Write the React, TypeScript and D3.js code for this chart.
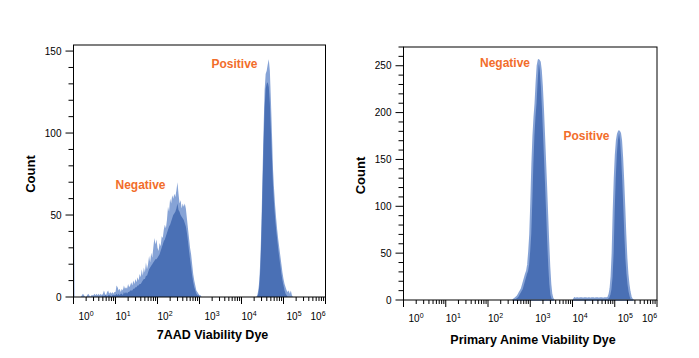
import React from "react";
import * as d3 from "d3";

// ---------- data ----------
const DECADES = [0, 1, 2, 3, 4, 5, 6];
const BIN_STEP = 0.025; // log10 width of one histogram bin

const LEFT_Y_TICKS = [0, 50, 100, 150];
const RIGHT_Y_TICKS = [0, 50, 100, 150, 200, 250];

// 7AAD panel, negative population (log10 start 0)
const LEFT_NEG_START = 0;
const LEFT_NEG_LIGHT = [
  84, 0, 0, 0, 0, 0, 0, 0,
  1, 2, 1, 0, 0, 1, 2, 1,
  0, 1, 1, 1, 2, 1, 2, 1,
  2, 1, 2, 1, 2, 4, 2, 1,
  3, 4, 2, 3, 2, 3, 2, 3,
  3, 7, 6, 4, 5, 3, 5, 4,
  7, 5, 6, 5, 8, 6, 7, 9,
  7, 10, 8, 11, 9, 12, 10, 14,
  12, 17, 13, 18, 15, 21, 17, 20,
  25, 21, 27, 24, 30, 36, 32, 35,
  30, 28, 33, 31, 37, 36, 41, 44,
  42, 47, 55, 52, 60, 57, 62, 60,
  63, 61, 65, 70, 63, 57, 59, 54,
  57, 55, 57, 54, 48, 42, 36, 30,
  26, 20, 14, 10, 7, 4, 3, 2,
  1, 1, 0,
];
const LEFT_NEG_DARK = [
  0, 0, 0, 0, 0, 0, 0, 0,
  0, 0, 0, 0, 0, 0, 0, 0,
  0, 0, 0, 0, 0, 0, 0, 0,
  0, 0, 0, 0, 1, 0, 1, 1,
  0, 1, 1, 1, 0, 1, 1, 1,
  1, 2, 1, 2, 1, 2, 2, 1,
  3, 2, 3, 2, 3, 3, 4, 4,
  4, 5, 5, 6, 6, 7, 7, 8,
  8, 9, 10, 11, 11, 13, 13, 15,
  17, 18, 19, 20, 21, 22, 23, 23,
  24, 25, 26, 28, 30, 32, 34, 35,
  37, 39, 41, 43, 44, 46, 48, 50,
  51, 52, 54, 57, 53, 52, 50, 49,
  48, 47, 45, 43, 39, 34, 28, 23,
  18, 13, 9, 6, 4, 2, 1, 1,
  0, 0, 0,
];

// 7AAD panel, positive population
const LEFT_POS_START = 4.35;
const LEFT_POS_LIGHT = [
  0, 1, 4, 10, 24, 45, 75, 102, 126, 136,
  138, 142, 145, 138, 120, 100, 78, 66, 56, 48,
  41, 35, 30, 25, 20, 15, 11, 8, 6, 4,
  3, 4, 2, 4, 1, 0,
];
const LEFT_POS_DARK = [
  0, 0, 2, 7, 18, 38, 65, 92, 115, 127,
  130, 131, 128, 118, 102, 85, 68, 57, 48, 41,
  35, 29, 24, 19, 14, 10, 7, 4, 2, 1, 0,
];

// Primary Anime panel
const RIGHT_NEG_START = 2.6;
const RIGHT_NEG = [
  0, 1, 2, 3, 4, 6, 8, 10, 12, 16,
  20, 24, 28, 31, 38, 52, 70, 105, 145, 175,
  195, 210, 232, 250, 256, 254, 245, 228, 205, 178,
  150, 122, 92, 62, 36, 17, 6, 2, 0,
];
const RIGHT_POS_START = 4.025;
const RIGHT_POS = [
  0,
  2, 1, 2, 2, 1, 2, 2, 2, 1, 2, 2, 2, 1, 2, 2, 1,
  2, 2, 2, 1, 2, 2, 2, 1, 2, 2, 2, 1, 2, 2, 2, 2,
  3, 6, 12, 25, 50, 95, 130, 155, 170, 177,
  180, 178, 170, 152, 128, 100, 70, 45, 28, 17,
  9, 4, 1, 0,
];

// ---------- style ----------
const FONT = "'Liberation Sans', Arial, Helvetica, sans-serif";
const DARK = "#4a70b5";
const LIGHT = "#86a3d6";
const ORANGE = "#f26d2b";
const LABEL_DX = [5, 0, 0, 5, 0, 3, -15];

type Series = { start: number; values: number[] };
type Note = { text: string; x: number; y: number };

type PanelProps = {
  x0: number;
  x1: number;
  yTop: number;
  yBot: number;
  yMax: number;
  yTicks: number[];
  layers: { series: Series[]; fill: string; stroke?: string; strokeWidth?: number }[];
  notes: Note[];
  xTitle: string;
  xTitleX: number;
  xTitleY: number;
  yTitleX: number;
  yTitleY: number;
  tickLabelY: number;
};

function Panel(p: PanelProps) {
  const x = d3.scaleLog().domain([1, 1e6]).range([p.x0, p.x1]);
  const y = d3.scaleLinear().domain([0, p.yMax]).range([p.yBot, p.yTop]);

  const area = d3
    .area<{ lv: number; v: number }>()
    .x((d) => x(Math.pow(10, d.lv)))
    .y0(p.yBot)
    .y1((d) => y(d.v))
    .curve(d3.curveLinear);

  const toPts = (s: Series) => s.values.map((v, i) => ({ lv: s.start + i * BIN_STEP, v }));

  const minorX: number[] = [];
  for (let k = 0; k < 6; k++) for (let m = 2; m <= 9; m++) minorX.push(m * Math.pow(10, k));

  const minorY: number[] = [];
  for (let v = 0; v <= p.yMax; v += 10) if (!p.yTicks.includes(v)) minorY.push(v);

  return (
    <g>
      {p.layers.map((layer, li) =>
        layer.series.map((s, si) => (
          <path
            key={`${li}-${si}`}
            d={area(toPts(s)) || ""}
            fill={layer.fill}
            stroke={layer.stroke || "none"}
            strokeWidth={layer.strokeWidth || 0}
            strokeLinejoin="round"
          />
        ))
      )}
      {/* frame */}
      <rect x={p.x0} y={p.yTop} width={p.x1 - p.x0} height={p.yBot - p.yTop} fill="none" stroke="#000" strokeWidth={1} />
      {/* x ticks */}
      {DECADES.map((d) => (
        <line key={`mx${d}`} x1={x(Math.pow(10, d))} x2={x(Math.pow(10, d))} y1={p.yBot} y2={p.yBot + 7} stroke="#000" strokeWidth={1} />
      ))}
      {minorX.map((v) => (
        <line key={`nx${v}`} x1={x(v)} x2={x(v)} y1={p.yBot} y2={p.yBot + 4} stroke="#000" strokeWidth={1} />
      ))}
      {DECADES.map((d, i) => (
        <text key={`lx${d}`} x={x(Math.pow(10, d)) + LABEL_DX[i]} y={p.tickLabelY} fontFamily={FONT} fontSize={10} fill="#000">
          10
          <tspan fontSize={7} dy={-4}>{d}</tspan>
        </text>
      ))}
      {/* y ticks */}
      {p.yTicks.map((v) => (
        <g key={`my${v}`}>
          <line x1={p.x0 - 8} x2={p.x0} y1={y(v)} y2={y(v)} stroke="#000" strokeWidth={1} />
          <text x={p.x0 - 12} y={y(v) + 3.5} textAnchor="end" fontFamily={FONT} fontSize={10} fill="#000">
            {v}
          </text>
        </g>
      ))}
      {minorY.map((v) => (
        <line key={`ny${v}`} x1={p.x0 - 5} x2={p.x0} y1={y(v)} y2={y(v)} stroke="#000" strokeWidth={1} />
      ))}
      {/* titles */}
      <text x={p.xTitleX} y={p.xTitleY} textAnchor="middle" fontFamily={FONT} fontWeight="bold" fontSize={12.5} fill="#000">
        {p.xTitle}
      </text>
      <text
        transform={`translate(${p.yTitleX},${p.yTitleY}) rotate(-90)`}
        textAnchor="middle"
        fontFamily={FONT}
        fontWeight="bold"
        fontSize={13}
        fill="#000"
      >
        Count
      </text>
      {p.notes.map((n) => (
        <text key={n.text} x={n.x} y={n.y} fontFamily={FONT} fontWeight="bold" fontSize={12} fill={ORANGE}>
          {n.text}
        </text>
      ))}
    </g>
  );
}

export default function App() {
  return (
    <svg width={699} height={358} style={{ position: "absolute", left: 0, top: 0, background: "#fff" }}>
      <rect width={699} height={358} fill="#fff" />
      <Panel
        x0={73.5}
        x1={325.5}
        yTop={45}
        yBot={297}
        yMax={153.7}
        yTicks={LEFT_Y_TICKS}
        layers={[
          {
            series: [
              { start: LEFT_NEG_START, values: LEFT_NEG_LIGHT },
              { start: LEFT_POS_START, values: LEFT_POS_LIGHT },
            ],
            fill: LIGHT,
          },
          {
            series: [
              { start: LEFT_NEG_START, values: LEFT_NEG_DARK },
              { start: LEFT_POS_START, values: LEFT_POS_DARK },
            ],
            fill: DARK,
          },
        ]}
        notes={[
          { text: "Positive", x: 211.5, y: 67.5 },
          { text: "Negative", x: 115.5, y: 188.5 },
        ]}
        xTitle="7AAD Viability Dye"
        xTitleX={212.5}
        xTitleY={338.5}
        yTitleX={35}
        yTitleY={174}
        tickLabelY={320}
      />
      <Panel
        x0={403.5}
        x1={657}
        yTop={47}
        yBot={300}
        yMax={270}
        yTicks={RIGHT_Y_TICKS}
        layers={[
          {
            series: [
              { start: RIGHT_NEG_START, values: RIGHT_NEG },
              { start: RIGHT_POS_START, values: RIGHT_POS },
            ],
            fill: DARK,
            stroke: LIGHT,
            strokeWidth: 2,
          },
        ]}
        notes={[
          { text: "Negative", x: 480, y: 67 },
          { text: "Positive", x: 563.5, y: 139.5 },
        ]}
        xTitle="Primary Anime Viability Dye"
        xTitleX={533}
        xTitleY={343.5}
        yTitleX={365}
        yTitleY={175.5}
        tickLabelY={322}
      />
    </svg>
  );
}
